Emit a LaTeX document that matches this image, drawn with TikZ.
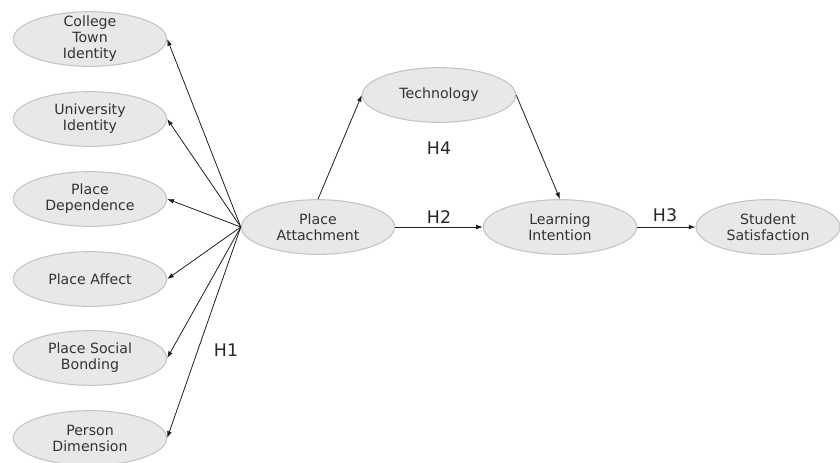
\documentclass[tikz,border=0pt]{standalone}
\usepackage{fontspec}
\setmainfont{DejaVu Sans}
\usetikzlibrary{shapes.geometric,arrows.meta}
\definecolor{ovalfill}{HTML}{E8E8E8}
\definecolor{ovalline}{HTML}{C4C4C4}
\definecolor{linkcol}{HTML}{202020}
\begin{document}
\begin{tikzpicture}[x=0.75pt,y=-0.75pt,
  oval/.style={ellipse, draw=ovalline, fill=ovalfill, line width=0.8pt,
    minimum width=115pt, minimum height=41pt, inner xsep=0pt, inner ysep=-3pt,
    align=center, text=black!80, font=\fontsize{10.6}{12}\selectfont},
  link/.style={draw=linkcol, line width=0.6pt, -{Latex[length=5pt,width=3.6pt]}},
  hyp/.style={font=\fontsize{13}{15}\selectfont, text=black!85}]
\useasboundingbox (0,0) rectangle (840,462);
\node[oval] (ctid) at (90,39){College\\Town\\Identity};
\node[oval] (unid) at (90,119){University\\Identity};
\node[oval] (pdep) at (90,199){Place\\Dependence};
\node[oval] (paff) at (90,279){Place Affect};
\node[oval] (psoc) at (90,358){Place Social\\Bonding};
\node[oval] (pdim) at (90,438){Person\\Dimension};
\node[oval] (patt) at (318,227){Place\\Attachment};
\node[oval] (tech) at (439,95){Technology};
\node[oval] (lint) at (560,227){Learning\\Intention};
\node[oval, minimum width=108pt] (ssat) at (768,227){Student\\Satisfaction};
\draw[link](patt.west) -- (ctid.east);
\draw[link](patt.west) -- (unid.east);
\draw[link](patt.west) -- (pdep.east);
\draw[link](patt.west) -- (paff.east);
\draw[link](patt.west) -- (psoc.east);
\draw[link](patt.west) -- (pdim.east);
\draw[link](patt.north) -- (tech.west);
\draw[link](tech.east) -- (lint.north);
\draw[link](patt.east) -- (lint.west);
\draw[link](lint.east) -- (ssat.west);
\node[hyp] (hone) at (226,350){H1};
\node[hyp] (htwo) at (439,217){H2};
\node[hyp] (hthree) at (665,215){H3};
\node[hyp] (hfour) at (439,148){H4};
\end{tikzpicture}
\end{document}
